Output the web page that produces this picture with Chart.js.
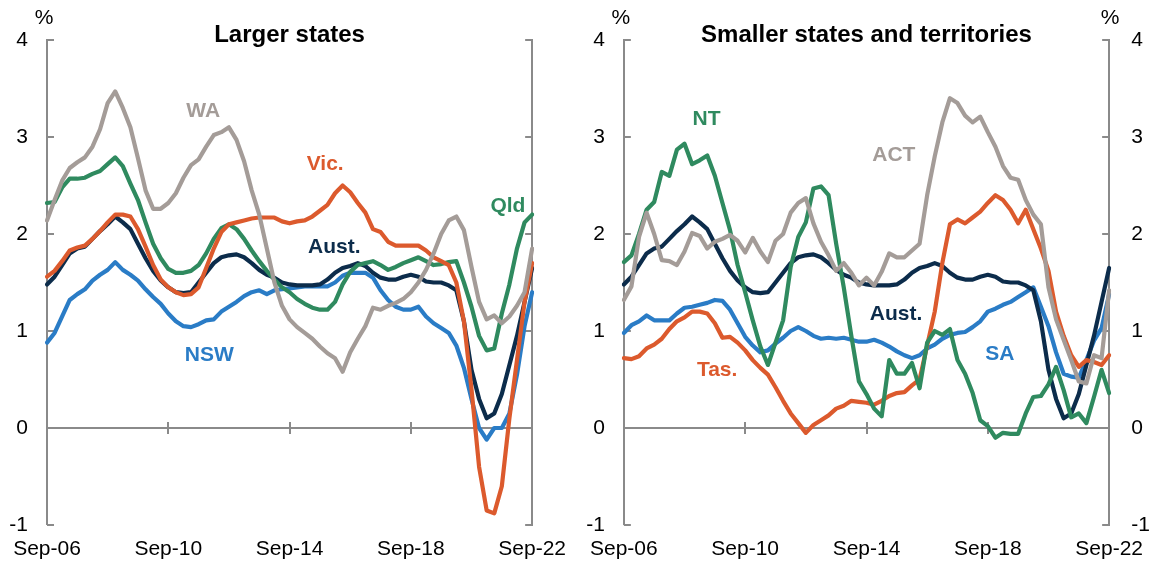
<!DOCTYPE html>
<html>
<head>
<meta charset="utf-8">
<script src="https://cdn.jsdelivr.net/npm/chart.js@4.4.0/dist/chart.umd.min.js"></script>
<style>
  body { margin: 0; background: #fff; }
  #wrap { position: relative; width: 1155px; height: 567px; }
  canvas { position: absolute; top: 0; }
  #left { left: 0; }
  #right { left: 578px; }
</style>
</head>
<body>
<div id="wrap">
  <canvas id="left" width="578" height="567"></canvas>
  <canvas id="right" width="577" height="567"></canvas>
</div>
<script>
// quarterly labels, Sep-06 .. Sep-22
const quarters = [];
const qMonths = ['Mar', 'Jun', 'Sep', 'Dec'];
for (let y = 2006; y <= 2022; y++) {
  qMonths.forEach((m, k) => {
    if ((y === 2006 && k < 2) || (y === 2022 && k > 2)) return;
    quarters.push(m + '-' + String(y).slice(2));
  });
}
const tickLabels = ['Sep-06', 'Sep-10', 'Sep-14', 'Sep-18', 'Sep-22'];

// year-ended growth, %
const aust = [1.48,1.56,1.68,1.80,1.85,1.87,1.95,2.03,2.10,2.18, 2.12,2.05,1.90,1.75,1.62,1.52,1.45,1.40,1.39,1.40,
  1.50,1.60,1.70,1.76,1.78,1.79,1.76,1.70,1.63,1.58, 1.55,1.50,1.48,1.47,1.47,1.47,1.48,1.53,1.60,1.65,
  1.67,1.70,1.67,1.60,1.55,1.53,1.53,1.56,1.58,1.56, 1.51,1.50,1.50,1.47,1.42,1.10,0.60,0.30,0.10,0.15,
  0.35,0.65,0.95,1.30,1.65];
const nsw = [0.88,0.98,1.15,1.32,1.38,1.43,1.52,1.58,1.63,1.71, 1.63,1.58,1.52,1.43,1.35,1.28,1.18,1.10,1.05,1.04,
  1.07,1.11,1.12,1.20,1.25,1.30,1.36,1.40,1.42,1.38, 1.42,1.43,1.44,1.45,1.46,1.46,1.46,1.46,1.50,1.57,
  1.60,1.60,1.60,1.55,1.42,1.32,1.25,1.22,1.22,1.25, 1.15,1.08,1.03,0.98,0.85,0.62,0.30,0.00,-0.12,0.00,
  0.00,0.15,0.55,1.05,1.40];
const vic = [1.56,1.62,1.72,1.83,1.86,1.88,1.95,2.03,2.12,2.20, 2.20,2.18,2.05,1.87,1.68,1.53,1.45,1.40,1.37,1.38,
  1.45,1.65,1.85,2.02,2.10,2.12,2.14,2.16,2.17,2.17, 2.17,2.13,2.11,2.13,2.14,2.18,2.24,2.30,2.42,2.50,
  2.43,2.32,2.22,2.05,2.02,1.92,1.88,1.88,1.88,1.88, 1.83,1.76,1.72,1.68,1.50,1.10,0.40,-0.40,-0.85,-0.88,
  -0.60,0.10,0.70,1.30,1.70];
const qld = [2.32,2.33,2.48,2.57,2.57,2.58,2.62,2.65,2.72,2.79, 2.70,2.52,2.35,2.12,1.90,1.75,1.64,1.60,1.60,1.62,
  1.68,1.80,1.95,2.06,2.10,2.05,1.95,1.83,1.72,1.62, 1.53,1.45,1.40,1.33,1.28,1.24,1.22,1.22,1.30,1.48,
  1.61,1.68,1.70,1.72,1.68,1.63,1.66,1.70,1.73,1.76, 1.72,1.68,1.69,1.71,1.72,1.50,1.25,0.95,0.80,0.82,
  1.18,1.48,1.85,2.12,2.20];
const wa = [2.14,2.35,2.55,2.68,2.74,2.79,2.90,3.08,3.35,3.47, 3.30,3.10,2.78,2.45,2.26,2.26,2.32,2.42,2.58,2.71,
  2.77,2.90,3.02,3.05,3.10,2.97,2.75,2.45,2.20,1.85, 1.50,1.26,1.12,1.04,0.98,0.92,0.84,0.77,0.72,0.58,
  0.78,0.92,1.05,1.24,1.22,1.26,1.29,1.33,1.40,1.50, 1.63,1.80,2.00,2.14,2.18,2.04,1.66,1.30,1.12,1.16,
  1.08,1.15,1.26,1.40,1.85];
const sa = [0.98,1.06,1.10,1.16,1.11,1.11,1.11,1.18,1.24,1.25, 1.27,1.29,1.32,1.31,1.22,1.08,0.94,0.85,0.78,0.80,
  0.87,0.93,1.00,1.04,1.00,0.95,0.92,0.93,0.92,0.93, 0.91,0.89,0.89,0.91,0.88,0.84,0.79,0.75,0.72,0.75,
  0.82,0.86,0.92,0.96,0.98,0.99,1.04,1.10,1.20,1.23, 1.27,1.30,1.35,1.40,1.45,1.25,1.05,0.78,0.56,0.53,
  0.52,0.70,0.90,1.03,1.38];
const tas = [0.72,0.71,0.74,0.82,0.86,0.92,1.02,1.10,1.14,1.20, 1.20,1.18,1.08,0.93,0.94,0.88,0.80,0.70,0.62,0.55,
  0.42,0.28,0.15,0.05,-0.05,0.03,0.08,0.13,0.20,0.23, 0.28,0.27,0.26,0.24,0.28,0.33,0.36,0.37,0.44,0.50,
  0.85,1.20,1.70,2.10,2.15,2.11,2.17,2.23,2.32,2.40, 2.35,2.25,2.11,2.25,2.05,1.85,1.62,1.20,0.95,0.75,
  0.63,0.70,0.68,0.65,0.75];
const nt = [1.71,1.78,2.00,2.25,2.33,2.64,2.60,2.87,2.93,2.72, 2.76,2.81,2.60,2.32,2.04,1.68,1.40,1.11,0.84,0.65,
  0.88,1.11,1.66,1.97,2.12,2.47,2.49,2.40,1.90,1.45, 0.95,0.48,0.35,0.20,0.12,0.70,0.56,0.56,0.67,0.41,
  0.88,1.00,0.96,1.02,0.70,0.56,0.36,0.08,0.02,-0.10, -0.05,-0.06,-0.06,0.15,0.32,0.33,0.45,0.63,0.39,0.11,
  0.15,0.05,0.32,0.60,0.36];
const act = [1.32,1.46,1.97,2.22,2.00,1.73,1.72,1.68,1.82,2.01, 1.98,1.85,1.92,1.95,1.99,1.93,1.81,1.96,1.82,1.71,
  1.93,2.00,2.22,2.32,2.37,2.11,1.92,1.78,1.62,1.70, 1.60,1.47,1.55,1.47,1.61,1.80,1.76,1.76,1.83,1.90,
  2.40,2.80,3.15,3.40,3.35,3.22,3.15,3.21,3.05,2.90, 2.70,2.58,2.56,2.35,2.20,2.10,1.45,1.12,0.91,0.70,
  0.48,0.46,0.75,0.72,1.42];

const navy = '#0c2c4b';
const blue = '#2a7cc6';
const orange = '#dc5a2d';
const green = '#2f8a5f';
const grey = '#a49c98';
const axisGrey = '#8a8a8a';

Chart.defaults.font.family = '"Liberation Sans", Arial, sans-serif';
Chart.defaults.font.size = 21;
Chart.defaults.color = '#000';

const decor = {
  id: 'decor',
  beforeDatasetsDraw(chart) {
    const {ctx, chartArea: a, scales} = chart;
    ctx.save();
    ctx.strokeStyle = axisGrey;
    ctx.lineWidth = 2;
    ctx.beginPath();
    scales.y.ticks.forEach(t => {
      const py = Math.round(scales.y.getPixelForValue(t.value));
      ctx.moveTo(a.left, py); ctx.lineTo(a.left + 7, py);
      ctx.moveTo(a.right, py); ctx.lineTo(a.right - 7, py);
    });
    const y0 = Math.round(scales.y.getPixelForValue(0));
    tickLabels.slice(1, -1).forEach(lab => {
      const px = Math.round(scales.x.getPixelForValue(quarters.indexOf(lab)));
      ctx.moveTo(px, y0 - 6); ctx.lineTo(px, y0 + 6);
    });
    ctx.stroke();
    ctx.restore();
  },
  afterDatasetsDraw(chart, args, opts) {
    const {ctx, scales} = chart;
    ctx.save();
    ctx.font = 'bold 21px "Liberation Sans", Arial, sans-serif';
    ctx.textAlign = 'center';
    ctx.textBaseline = 'middle';
    opts.labels.forEach(l => {
      ctx.fillStyle = l.color;
      ctx.fillText(l.text, scales.x.getPixelForValue(l.at[0]), scales.y.getPixelForValue(l.at[1]));
    });
    ctx.restore();
  },
  afterDraw(chart, args, opts) {
    const {ctx, chartArea: a} = chart;
    ctx.save();
    ctx.fillStyle = '#000';
    ctx.textAlign = 'center';
    ctx.textBaseline = 'middle';
    ctx.font = 'bold 24px "Liberation Sans", Arial, sans-serif';
    ctx.fillText(opts.title, (a.left + a.right) / 2, 35);
    ctx.font = '21px "Liberation Sans", Arial, sans-serif';
    ctx.fillText('%', a.left - 3, 18);
    if (opts.rightPct) ctx.fillText('%', a.right + 1, 18);
    ctx.restore();
  }
};

function line(label, data, color) {
  return {
    label, data,
    borderColor: color,
    borderWidth: 4.2,
    pointRadius: 0,
    tension: 0,
    fill: false,
    borderJoinStyle: 'round',
    borderCapStyle: 'round'
  };
}

function makeChart(id, datasets, cfg) {
  return new Chart(document.getElementById(id), {
    type: 'line',
    data: { labels: quarters, datasets },
    options: {
      responsive: false,
      animation: false,
      layout: { padding: { top: 40, left: 0, right: 0, bottom: 0 } },
      plugins: {
        legend: { display: false },
        tooltip: { enabled: false },
        decor: { title: cfg.title, rightPct: cfg.rightLabels, labels: cfg.labels }
      },
      scales: {
        x: {
          type: 'category',
          offset: false,
          grid: { display: false, drawTicks: false },
          border: { display: false },
          ticks: {
            autoSkip: false, maxRotation: 0, padding: 12,
            callback(v) {
              const l = this.getLabelForValue(v);
              return tickLabels.includes(l) ? l : null;
            }
          },
          afterFit(s) { s.height = 42; }
        },
        y: {
          min: -1, max: 4,
          ticks: { stepSize: 1, padding: 19 },
          grid: {
            drawTicks: false,
            color: c => c.tick && c.tick.value === 0 ? axisGrey : 'rgba(0,0,0,0)',
            lineWidth: c => c.tick && c.tick.value === 0 ? 2 : 0
          },
          border: { display: true, color: axisGrey, width: 2 },
          afterFit(s) { s.width = cfg.leftW; }
        },
        y2: {
          position: 'right',
          min: -1, max: 4,
          ticks: { stepSize: 1, padding: 22, display: cfg.rightLabels },
          grid: { display: false, drawTicks: false },
          border: { display: true, color: axisGrey, width: 2 },
          afterFit(s) { s.width = cfg.rightW; }
        }
      }
    },
    plugins: [decor]
  });
}

makeChart('left', [
  line('WA', wa, grey),
  line('Vic.', vic, orange),
  line('Qld', qld, green),
  line('Aust.', aust, navy),
  line('NSW', nsw, blue)
], {
  title: 'Larger states', leftW: 47, rightW: 41, rightLabels: false,
  labels: [
    { text: 'WA', at: [20.6, 3.27], color: grey },
    { text: 'Vic.', at: [36.7, 2.72], color: orange },
    { text: 'Qld', at: [60.8, 2.29], color: green },
    { text: 'Aust.', at: [37.9, 1.86], color: navy },
    { text: 'NSW', at: [21.4, 0.75], color: blue }
  ]
});

makeChart('right', [
  line('ACT', act, grey),
  line('NT', nt, green),
  line('Tas.', tas, orange),
  line('Aust.', aust, navy),
  line('SA', sa, blue)
], {
  title: 'Smaller states and territories', leftW: 44, rightW: 44, rightLabels: true,
  labels: [
    { text: 'NT', at: [10.9, 3.18], color: green },
    { text: 'ACT', at: [35.6, 2.81], color: grey },
    { text: 'Aust.', at: [35.9, 1.17], color: navy },
    { text: 'Tas.', at: [12.3, 0.6], color: orange },
    { text: 'SA', at: [49.6, 0.76], color: blue }
  ]
});
</script>
</body>
</html>
